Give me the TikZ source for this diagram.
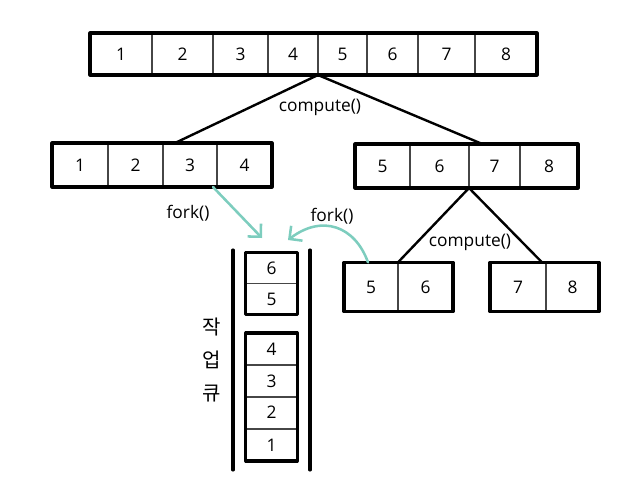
\documentclass[tikz,border=0pt]{standalone}
\usepackage{fontspec}
\setmainfont{Open Sans}
\newfontfamily\kofont{Noto Sans CJK KR}
\usetikzlibrary{arrows.meta}
\definecolor{forkteal}{RGB}{125,205,190}
\definecolor{divgray}{RGB}{70,70,70}

\begin{document}
\begin{tikzpicture}[x=0.75pt,y=-0.75pt,line cap=round,line join=round,
		cell/.style={draw=divgray,line width=1.2pt,inner sep=0pt,outer sep=0pt,font=\fontsize{13}{15}\selectfont},
		outer/.style={line width=2.3pt},
		link/.style={line width=1.8pt},
		forkarrow/.style={draw=forkteal,line width=1.9pt,-{Straight Barb[length=7pt,width=14pt]}},
		lbl/.style={font=\fontsize{13}{15}\selectfont,inner sep=0pt}]
		\useasboundingbox (0,0) rectangle (639,487);
		% top array
		\foreach \a/\b/\n in {90/152/1,152/213/2,213/268/3,268/318/4,318/367/5,367/418/6,418/475/7,475/537/8}
			\node[cell,minimum width={(\b-\a)*0.75pt},minimum height=31.5pt] (t\n) at ({(\a+\b)/2},54) {\n};
		\draw[outer] (t1.north west) rectangle (t8.south east);
		% left half
		\foreach \a/\b/\n in {52/108/1,108/163/2,163/217/3,217/272/4}
			\node[cell,minimum width={(\b-\a)*0.75pt},minimum height=33pt] (l\n) at ({(\a+\b)/2},165) {\n};
		\draw[outer] (l1.north west) rectangle (l4.south east);
		% right half
		\foreach \a/\b/\n in {355/410/5,410/469/6,469/520/7,520/578/8}
			\node[cell,minimum width={(\b-\a)*0.75pt},minimum height=33pt] (r\n) at ({(\a+\b)/2},166) {\n};
		\draw[outer] (r5.north west) rectangle (r8.south east);
		% quarters
		\foreach \a/\b/\n in {344/398/5,398/453/6}
			\node[cell,minimum width={(\b-\a)*0.75pt},minimum height=37pt] (a\n) at ({(\a+\b)/2},287) {\n};
		\draw[outer] (a5.north west) rectangle (a6.south east);
		\foreach \a/\b/\n in {490/546/7,546/599/8}
			\node[cell,minimum width={(\b-\a)*0.75pt},minimum height=37pt] (b\n) at ({(\a+\b)/2},287) {\n};
		\draw[outer] (b7.north west) rectangle (b8.south east);
		% splits
		\draw[link] (t4.south east) -- ([xshift=9pt]l3.north west);
		\draw[link] (t4.south east) -- ([xshift=10pt]r7.north west);
		\node[lbl] (comp1) at (320,107) {compute()};
		\draw[link] (r6.south east) -- (a5.north east);
		\draw[link] (r6.south east) -- ([xshift=-3pt]b7.north east);
		\node[lbl] (comp2) at (470,242) {compute()};
		% work queue
		\coordinate (qtl) at (233,250);
		\coordinate (qbl) at (233,470);
		\coordinate (qtr) at (310,250);
		\coordinate (qbr) at (310,470);
		\draw[outer] (qtl) -- (qbl);
		\draw[outer] (qtr) -- (qbr);
		\foreach \y/\n in {268/6,299/5}
			\node[cell,minimum width=38.5pt,minimum height=23.5pt] (q\n) at (271.5,\y) {\n};
		\draw[outer] (q6.north west) rectangle (q5.south east);
		\foreach \y/\n in {349/4,381/3,412.5/2,445/1}
			\node[cell,minimum width=38.5pt,minimum height=24pt] (q\n) at (271.5,\y) {\n};
		\draw[outer] (q4.north west) rectangle (q1.south east);
		\node[lbl,font=\kofont\fontsize{15}{24.5}\selectfont,align=center] (qname) at (212,360) {작\\업\\큐};
		% fork arrows
		\coordinate (qin1) at (262,238);
		\coordinate (qin2) at (288,240);
		\draw[forkarrow] ([xshift=-3pt]l3.south east) -- (qin1);
		\node[lbl] (fork1) at (188,213) {fork()};
		\draw[forkarrow] ([xshift=18pt]a5.north west) .. controls (355,226) and (322,214) .. (qin2);
		\node[lbl] (fork2) at (332,216) {fork()};
	\end{tikzpicture}
\end{document}
